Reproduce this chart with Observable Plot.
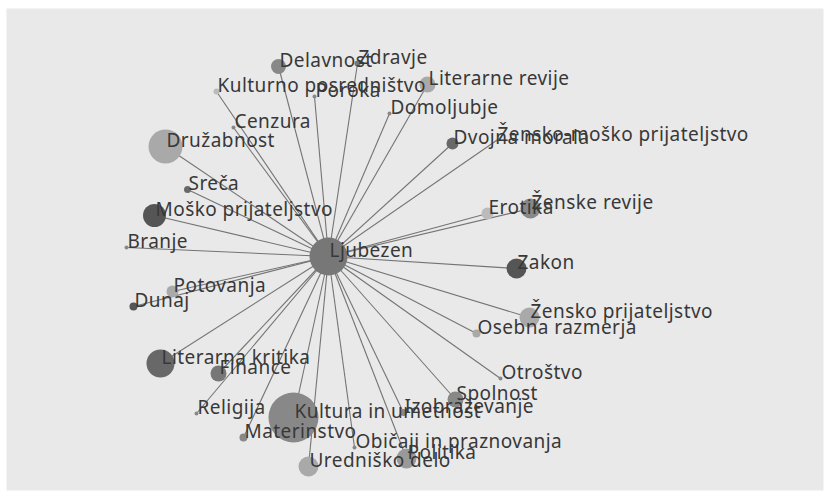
<!DOCTYPE html>
<html>
<head>
<meta charset="utf-8">
<script src="https://cdn.jsdelivr.net/npm/d3@7"></script>
<script src="https://cdn.jsdelivr.net/npm/@observablehq/plot@0.6"></script>
<style>
  html, body { margin: 0; padding: 0; background: #ffffff; }
  #chart svg { display: block; }
  #chart svg text { letter-spacing: 0.45px; }
</style>
</head>
<body>
<div id="chart"></div>
<script>
// Network layout (layout units), node weights and community classes
const hub = "Ljubezen";
const hubX = 328, hubY = 256, hubSize = 19, hubGroup = 2;

const names = [
  "Delavnost", "Zdravje", "Kulturno posredništvo", "Poroka", "Literarne revije",
  "Domoljubje", "Cenzura", "Družabnost", "Sreča", "Moško prijateljstvo",
  "Branje", "Dvojna morala", "Žensko-moško prijateljstvo", "Erotika", "Ženske revije",
  "Zakon", "Žensko prijateljstvo", "Osebna razmerja", "Otroštvo", "Spolnost",
  "Izobraževanje", "Kultura in umetnost", "Literarna kritika", "Finance", "Religija",
  "Materinstvo", "Običaji in praznovanja", "Uredniško delo", "Politika", "Potovanja",
  "Dunaj"
];
const xs = [
  278, 357, 216, 314, 427,
  389, 233, 165, 187, 154,
  126, 452, 496, 487, 530,
  516, 529, 476, 500, 455,
  403, 293, 160, 218, 196,
  243, 354, 308, 406, 172,
  133
];
const ys = [
  66, 63, 91, 96, 84,
  113, 127, 146, 189, 215,
  247, 143, 140, 213, 208,
  268, 317, 333, 378, 399,
  412, 417, 363, 373, 413,
  437, 447, 466, 458, 291,
  306
];
const sizes = [
  7.5, 3, 3, 2, 8,
  2, 2, 17, 3.5, 11.5,
  2, 6, 1, 6, 10,
  10, 10, 4, 2, 8,
  3.5, 25, 14, 8, 2,
  4, 2, 10, 10, 6,
  4
];
const groups = [
  3, 2, 6, 3, 5,
  3, 3, 5, 1, 0,
  3, 1, 3, 6, 3,
  0, 5, 5, 3, 3,
  3, 3, 1, 2, 3,
  3, 3, 5, 4, 5,
  0
];

const allNodes = [{name: hub, x: hubX, y: hubY, size: hubSize, group: hubGroup}]
  .concat(names.map((n, i) => ({name: n, x: xs[i], y: ys[i], size: sizes[i], group: groups[i]})));
const edges = names.map((n, i) => ({source: hub, target: n, x1: hubX, y1: hubY, x2: xs[i], y2: ys[i]}));
// draw large nodes first so small ones stay visible
const nodesSorted = allNodes.slice().sort((a, b) => b.size - a.size);

const chart = Plot.plot({
  width: 829,
  height: 498,
  margin: 0,
  x: {domain: [0, 829], range: [0, 829], axis: null},
  y: {domain: [0, 498], range: [0, 498], axis: null},
  r: {type: "identity"},
  color: {type: "ordinal", domain: [0, 1, 2, 3, 4, 5, 6],
          range: ["#555555", "#686868", "#777777", "#888888", "#999999", "#a9a9a9", "#bbbbbb"]},
  style: {background: "#ffffff"},
  marks: [
    Plot.frame({fill: "#e9e9e9", stroke: null, insetTop: 8, insetLeft: 6, insetRight: 6, insetBottom: 8}),
    Plot.link(edges, {x1: "x1", y1: "y1", x2: "x2", y2: "y2", stroke: "#747474", strokeWidth: 1.1}),
    Plot.dot(nodesSorted, {x: "x", y: "y", r: "size", fill: "group", stroke: null}),
    Plot.text(allNodes, {x: "x", y: "y", text: "name", textAnchor: "start", lineAnchor: "bottom",
      dx: 1, dy: 0, fontSize: 19, fill: "#383838",
      fontFamily: "'Noto Sans', 'Open Sans', sans-serif"})
  ]
});
document.getElementById("chart").appendChild(chart);
</script>
</body>
</html>
